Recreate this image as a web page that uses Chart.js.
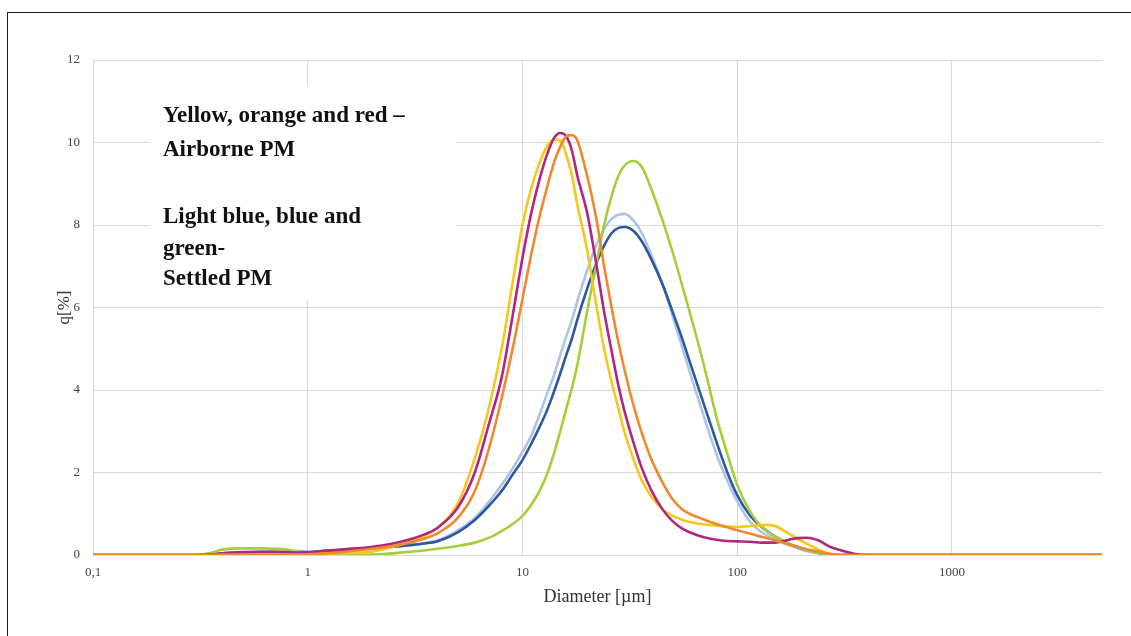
<!DOCTYPE html>
<html>
<head>
<meta charset="utf-8">
<script src="https://cdn.jsdelivr.net/npm/chart.js@4"></script>
<style>
  html, body { margin: 0; padding: 0; background: #fff; }
  #wrap { position: relative; width: 1131px; height: 636px; overflow: hidden; }
  #frame { position: absolute; left: 7px; top: 12px; right: -20px; bottom: -20px;
           border-left: 1.5px solid #1e1e1e; border-top: 1.5px solid #1e1e1e; }
  #chart { position: absolute; left: 0; top: 0; }
</style>
</head>
<body>
<div id="wrap">
  <div id="frame"></div>
  <canvas id="chart" width="1131" height="636"></canvas>
</div>
<script>
// particle size distribution, diameter in µm, q in %
const diameters = [0.1, 0.3, 0.35, 0.4, 0.5, 0.6, 0.7, 0.8, 0.9, 1,
    1.2, 1.5, 2, 2.5, 3, 3.5, 4, 5, 6, 7,
    8, 9, 10, 11, 12, 13, 14, 15, 16, 17,
    18, 20, 22, 24, 26, 28, 30, 33, 36, 40,
    45, 50, 55, 60, 70, 80, 90, 100, 115, 130,
    150, 170, 190, 210, 240, 270, 300, 350, 400, 1000,
    5000];

const orange = [0, 0, 0, 0.01, 0.01, 0.01, 0.01, 0.01, 0.01, 0.02,
    0.04, 0.08, 0.15, 0.22, 0.3, 0.4, 0.52, 0.9, 1.55, 2.6,
    3.8, 5.0, 6.2, 7.3, 8.2, 8.9, 9.5, 9.9, 10.15, 10.18,
    10.05, 9.2, 8.2, 7.0, 6.0, 5.15, 4.45, 3.6, 2.95, 2.3,
    1.75, 1.35, 1.12, 1.0, 0.86, 0.75, 0.67, 0.6, 0.52, 0.44,
    0.36, 0.27, 0.2, 0.14, 0.08, 0.03, 0, 0, 0, 0,
    0];

const magenta = [0, 0, 0.01, 0.04, 0.07, 0.08, 0.08, 0.07, 0.06, 0.06,
    0.1, 0.14, 0.2, 0.28, 0.38, 0.5, 0.65, 1.15, 2.0, 3.2,
    4.3, 5.8, 7.2, 8.3, 9.1, 9.7, 10.1, 10.23, 10.15, 9.8,
    9.2, 8.3, 7.1, 5.9, 4.95, 4.1, 3.45, 2.7, 2.1, 1.55,
    1.1, 0.82, 0.65, 0.55, 0.43, 0.37, 0.34, 0.33, 0.32, 0.3,
    0.3, 0.36, 0.41, 0.42, 0.35, 0.2, 0.12, 0.03, 0, 0,
    0];

const yellow = [0, 0, 0.01, 0.02, 0.03, 0.03, 0.03, 0.03, 0.02, 0.02,
    0.03, 0.05, 0.08, 0.2, 0.33, 0.47, 0.65, 1.25, 2.35, 3.6,
    5.0, 6.6, 8.0, 8.9, 9.5, 9.9, 10.07, 10.05, 9.7, 9.2,
    8.5, 7.4, 6.1, 5.0, 4.2, 3.55, 2.95, 2.3, 1.8, 1.4,
    1.1, 0.95, 0.86, 0.8, 0.74, 0.71, 0.69, 0.68, 0.7, 0.73,
    0.7, 0.55, 0.4, 0.28, 0.12, 0.03, 0, 0, 0, 0,
    0];

const green = [0, 0, 0.05, 0.13, 0.16, 0.16, 0.15, 0.13, 0.08, 0.03,
    0.01, 0, 0.01, 0.04, 0.08, 0.11, 0.15, 0.22, 0.3, 0.42,
    0.58, 0.75, 0.95, 1.22, 1.55, 1.95, 2.45, 3.0, 3.55, 4.05,
    4.6, 5.9, 7.0, 8.0, 8.7, 9.2, 9.45, 9.55, 9.4, 8.85,
    8.1, 7.35, 6.6, 5.9, 4.6, 3.35, 2.45, 1.7, 1.05, 0.68,
    0.45, 0.3, 0.2, 0.12, 0.05, 0.01, 0, 0, 0, 0,
    0];

const blue = [0, 0, 0.01, 0.04, 0.06, 0.07, 0.07, 0.07, 0.08, 0.07,
    0.1, 0.13, 0.17, 0.2, 0.24, 0.28, 0.33, 0.55, 0.85, 1.2,
    1.55, 1.95, 2.3, 2.7, 3.1, 3.5, 3.95, 4.4, 4.85, 5.25,
    5.7, 6.45, 7.05, 7.5, 7.8, 7.93, 7.95, 7.85, 7.6, 7.15,
    6.55, 5.9, 5.3, 4.7, 3.65, 2.75, 2.0, 1.45, 0.95, 0.68,
    0.45, 0.3, 0.2, 0.13, 0.05, 0.01, 0, 0, 0, 0,
    0];

const lightBlue = [0, 0, 0.01, 0.03, 0.05, 0.06, 0.06, 0.06, 0.07, 0.07,
    0.09, 0.12, 0.16, 0.2, 0.24, 0.29, 0.35, 0.6, 0.9, 1.3,
    1.7, 2.1, 2.5, 2.9, 3.4, 3.9, 4.35, 4.85, 5.3, 5.7,
    6.15, 6.9, 7.5, 7.9, 8.15, 8.25, 8.27, 8.1, 7.8, 7.25,
    6.55, 5.8, 5.1, 4.45, 3.35, 2.45, 1.8, 1.3, 0.8, 0.55,
    0.38, 0.26, 0.17, 0.1, 0.04, 0.01, 0, 0, 0, 0,
    0];

const xTicks = [0.1, 1, 10, 100, 1000];
const yTicks = [0, 2, 4, 6, 8, 10, 12];

const noteLines = [
    'Yellow, orange and red \u2013',
    'Airborne PM',
    '',
    'Light blue, blue and',
    'green-',
    'Settled PM'
];

const serif = "'Liberation Serif', 'Times New Roman', serif";

function makeSet(values, color) {
    return {
        data: diameters.map((d, i) => ({x: d, y: values[i]})),
        borderColor: color,
        backgroundColor: color,
        borderWidth: 2.6,
        pointRadius: 0,
        cubicInterpolationMode: 'monotone',
        fill: false
    };
}

// white note box sitting over the grid, like in the original figure
const notePlugin = {
    id: 'noteBox',
    beforeDatasetsDraw(chart) {
        const ctx = chart.ctx;
        ctx.save();
        ctx.fillStyle = '#fff';
        ctx.fillRect(150, 86, 306, 214);
        ctx.fillStyle = '#111';
        ctx.font = 'bold 23px ' + serif;
        ctx.textBaseline = 'middle';
        const ys = [116, 150, 183, 217, 249, 279];
        noteLines.forEach((t, i) => ctx.fillText(t, 163, ys[i]));
        ctx.restore();
    }
};

new Chart(document.getElementById('chart'), {
    type: 'line',
    data: {
        datasets: [
            makeSet(orange, '#ee8a2c'),
            makeSet(magenta, '#b3267f'),
            makeSet(yellow, '#f6c81c'),
            makeSet(green, '#a5cf3a'),
            makeSet(blue, '#2c58a0'),
            makeSet(lightBlue, '#adc4e8')
        ]
    },
    options: {
        responsive: false,
        animation: false,
        devicePixelRatio: 1,
        layout: {padding: {left: 50, right: 29, top: 60, bottom: 24}},
        plugins: {
            legend: {display: false},
            tooltip: {enabled: false}
        },
        scales: {
            x: {
                type: 'logarithmic',
                min: 0.1,
                max: 5000,
                afterBuildTicks: axis => { axis.ticks = xTicks.map(v => ({value: v})); },
                afterFit: axis => { axis.height = 57; },
                border: {display: false},
                grid: {color: '#d9d9d9', lineWidth: 1, drawTicks: false},
                ticks: {
                    padding: 10,
                    color: '#444',
                    font: {family: serif, size: 13},
                    autoSkip: false,
                    maxRotation: 0,
                    callback: v => String(v).replace('.', ',')
                },
                title: {
                    display: true,
                    text: 'Diameter [\u00b5m]',
                    color: '#333',
                    font: {family: serif, size: 18},
                    padding: {top: 4, bottom: 4}
                }
            },
            y: {
                min: 0,
                max: 12,
                afterBuildTicks: axis => { axis.ticks = yTicks.map(v => ({value: v})); },
                afterFit: axis => { axis.width = 43; },
                border: {display: false},
                grid: {color: '#d9d9d9', lineWidth: 1, drawTicks: false},
                ticks: {
                    padding: 13,
                    color: '#444',
                    font: {family: serif, size: 13}
                },
                title: {
                    display: true,
                    text: 'q[%]',
                    color: '#333',
                    font: {family: serif, size: 17},
                    padding: {top: 4, bottom: 4}
                }
            }
        }
    },
    plugins: [notePlugin]
});
</script>
</body>
</html>
